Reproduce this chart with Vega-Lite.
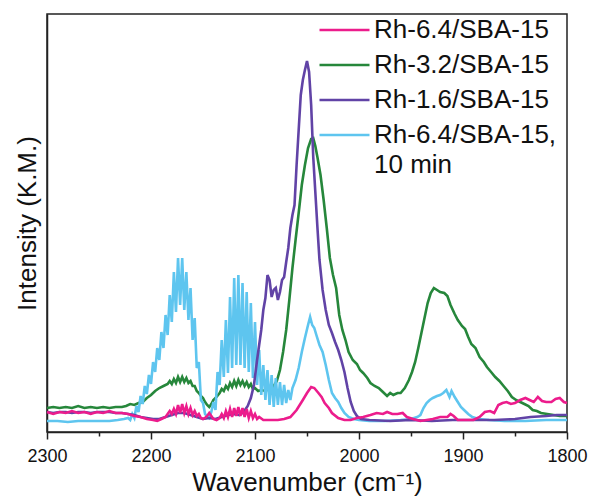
{
"$schema": "https://vega.github.io/schema/vega-lite/v6.json",
"width": 520, "height": 418,
"autosize": {"type": "none"},
"padding": {"left": 47, "top": 14, "right": 24, "bottom": 66},
"config": {"view": {"stroke": "#222", "strokeWidth": 1.5}, "font": "Liberation Sans"},
"data": {"values": [
{"s":"g","w":2300,"v":24},{"s":"g","w":2294,"v":25},{"s":"g","w":2288,"v":24},{"s":"g","w":2282,"v":25},{"s":"g","w":2276,"v":24},{"s":"g","w":2270,"v":26},{"s":"g","w":2264,"v":24},{"s":"g","w":2258,"v":25},{"s":"g","w":2252,"v":24},{"s":"g","w":2246,"v":25},{"s":"g","w":2240,"v":24},{"s":"g","w":2234,"v":25},{"s":"g","w":2228,"v":25},{"s":"g","w":2224,"v":26},{"s":"g","w":2220,"v":28},{"s":"g","w":2216,"v":27},{"s":"g","w":2212,"v":29},{"s":"g","w":2208,"v":30},{"s":"g","w":2204,"v":34},{"s":"g","w":2200,"v":37},{"s":"g","w":2196,"v":41},{"s":"g","w":2192,"v":44},{"s":"g","w":2188,"v":46},{"s":"g","w":2184,"v":48},{"s":"g","w":2182,"v":51},{"s":"g","w":2180,"v":48},{"s":"g","w":2178,"v":53},{"s":"g","w":2176,"v":49},{"s":"g","w":2174,"v":55},{"s":"g","w":2172,"v":50},{"s":"g","w":2170,"v":55},{"s":"g","w":2168,"v":50},{"s":"g","w":2166,"v":54},{"s":"g","w":2164,"v":49},{"s":"g","w":2162,"v":51},{"s":"g","w":2160,"v":46},{"s":"g","w":2158,"v":46},{"s":"g","w":2156,"v":41},{"s":"g","w":2154,"v":39},{"s":"g","w":2152,"v":36},{"s":"g","w":2150,"v":34},{"s":"g","w":2148,"v":30},{"s":"g","w":2146,"v":27},{"s":"g","w":2144,"v":25},{"s":"g","w":2142,"v":28},{"s":"g","w":2140,"v":32},{"s":"g","w":2137,"v":35},{"s":"g","w":2134,"v":39},{"s":"g","w":2132,"v":43},{"s":"g","w":2130,"v":41},{"s":"g","w":2128,"v":46},{"s":"g","w":2126,"v":43},{"s":"g","w":2124,"v":49},{"s":"g","w":2122,"v":45},{"s":"g","w":2120,"v":51},{"s":"g","w":2118,"v":46},{"s":"g","w":2116,"v":52},{"s":"g","w":2114,"v":47},{"s":"g","w":2112,"v":51},{"s":"g","w":2110,"v":46},{"s":"g","w":2108,"v":50},{"s":"g","w":2106,"v":45},{"s":"g","w":2104,"v":48},{"s":"g","w":2102,"v":43},{"s":"g","w":2100,"v":44},{"s":"g","w":2097,"v":41},{"s":"g","w":2094,"v":42},{"s":"g","w":2090,"v":41},{"s":"g","w":2086,"v":43},{"s":"g","w":2082,"v":46},{"s":"g","w":2079,"v":51},{"s":"g","w":2076,"v":62},{"s":"g","w":2073,"v":80},{"s":"g","w":2070,"v":102},{"s":"g","w":2067,"v":132},{"s":"g","w":2064,"v":164},{"s":"g","w":2061,"v":192},{"s":"g","w":2058,"v":219},{"s":"g","w":2055,"v":247},{"s":"g","w":2052,"v":267},{"s":"g","w":2049,"v":284},{"s":"g","w":2046,"v":293},{"s":"g","w":2044,"v":294},{"s":"g","w":2042,"v":286},{"s":"g","w":2040,"v":275},{"s":"g","w":2037,"v":257},{"s":"g","w":2034,"v":232},{"s":"g","w":2031,"v":204},{"s":"g","w":2028,"v":174},{"s":"g","w":2025,"v":157},{"s":"g","w":2022,"v":144},{"s":"g","w":2019,"v":117},{"s":"g","w":2016,"v":102},{"s":"g","w":2013,"v":92},{"s":"g","w":2010,"v":80},{"s":"g","w":2006,"v":72},{"s":"g","w":2002,"v":68},{"s":"g","w":1999,"v":62},{"s":"g","w":1996,"v":59},{"s":"g","w":1992,"v":54},{"s":"g","w":1989,"v":49},{"s":"g","w":1985,"v":46},{"s":"g","w":1981,"v":44},{"s":"g","w":1977,"v":40},{"s":"g","w":1973,"v":36},{"s":"g","w":1970,"v":39},{"s":"g","w":1967,"v":37},{"s":"g","w":1963,"v":39},{"s":"g","w":1960,"v":39},{"s":"g","w":1956,"v":44},{"s":"g","w":1952,"v":52},{"s":"g","w":1949,"v":60},{"s":"g","w":1946,"v":70},{"s":"g","w":1943,"v":84},{"s":"g","w":1940,"v":99},{"s":"g","w":1937,"v":114},{"s":"g","w":1934,"v":129},{"s":"g","w":1931,"v":139},{"s":"g","w":1928,"v":144},{"s":"g","w":1925,"v":142},{"s":"g","w":1922,"v":140},{"s":"g","w":1918,"v":139},{"s":"g","w":1915,"v":136},{"s":"g","w":1912,"v":127},{"s":"g","w":1908,"v":118},{"s":"g","w":1905,"v":112},{"s":"g","w":1901,"v":106},{"s":"g","w":1898,"v":103},{"s":"g","w":1895,"v":95},{"s":"g","w":1892,"v":88},{"s":"g","w":1888,"v":84},{"s":"g","w":1884,"v":75},{"s":"g","w":1880,"v":70},{"s":"g","w":1877,"v":65},{"s":"g","w":1873,"v":60},{"s":"g","w":1869,"v":55},{"s":"g","w":1865,"v":51},{"s":"g","w":1861,"v":46},{"s":"g","w":1857,"v":41},{"s":"g","w":1853,"v":35},{"s":"g","w":1849,"v":32},{"s":"g","w":1845,"v":30},{"s":"g","w":1841,"v":28},{"s":"g","w":1837,"v":26},{"s":"g","w":1833,"v":22},{"s":"g","w":1829,"v":21},{"s":"g","w":1825,"v":19},{"s":"g","w":1819,"v":18},{"s":"g","w":1813,"v":17},{"s":"g","w":1807,"v":16},{"s":"g","w":1800,"v":16},
{"s":"b","w":2300,"v":11},{"s":"b","w":2290,"v":11},{"s":"b","w":2280,"v":10},{"s":"b","w":2270,"v":11},{"s":"b","w":2260,"v":11},{"s":"b","w":2250,"v":11},{"s":"b","w":2240,"v":11},{"s":"b","w":2232,"v":12},{"s":"b","w":2226,"v":13},{"s":"b","w":2222,"v":14},{"s":"b","w":2220,"v":12},{"s":"b","w":2218,"v":18},{"s":"b","w":2216,"v":14},{"s":"b","w":2214,"v":26},{"s":"b","w":2212,"v":20},{"s":"b","w":2210,"v":36},{"s":"b","w":2208,"v":28},{"s":"b","w":2206,"v":46},{"s":"b","w":2204,"v":38},{"s":"b","w":2202,"v":57},{"s":"b","w":2200,"v":48},{"s":"b","w":2198,"v":70},{"s":"b","w":2196,"v":60},{"s":"b","w":2194,"v":84},{"s":"b","w":2192,"v":72},{"s":"b","w":2190,"v":100},{"s":"b","w":2188,"v":84},{"s":"b","w":2186,"v":117},{"s":"b","w":2184,"v":97},{"s":"b","w":2182,"v":137},{"s":"b","w":2180,"v":110},{"s":"b","w":2178,"v":160},{"s":"b","w":2176,"v":120},{"s":"b","w":2174,"v":174},{"s":"b","w":2172,"v":127},{"s":"b","w":2170,"v":174},{"s":"b","w":2168,"v":122},{"s":"b","w":2166,"v":160},{"s":"b","w":2164,"v":112},{"s":"b","w":2162,"v":144},{"s":"b","w":2160,"v":92},{"s":"b","w":2158,"v":114},{"s":"b","w":2156,"v":64},{"s":"b","w":2154,"v":70},{"s":"b","w":2152,"v":32},{"s":"b","w":2150,"v":29},{"s":"b","w":2148,"v":18},{"s":"b","w":2146,"v":16},{"s":"b","w":2144,"v":14},{"s":"b","w":2142,"v":20},{"s":"b","w":2140,"v":30},{"s":"b","w":2138,"v":22},{"s":"b","w":2136,"v":60},{"s":"b","w":2134,"v":47},{"s":"b","w":2132,"v":92},{"s":"b","w":2130,"v":55},{"s":"b","w":2128,"v":112},{"s":"b","w":2126,"v":59},{"s":"b","w":2124,"v":135},{"s":"b","w":2122,"v":64},{"s":"b","w":2120,"v":154},{"s":"b","w":2118,"v":67},{"s":"b","w":2116,"v":157},{"s":"b","w":2114,"v":67},{"s":"b","w":2112,"v":149},{"s":"b","w":2110,"v":64},{"s":"b","w":2108,"v":140},{"s":"b","w":2106,"v":60},{"s":"b","w":2104,"v":129},{"s":"b","w":2102,"v":54},{"s":"b","w":2100,"v":110},{"s":"b","w":2098,"v":47},{"s":"b","w":2096,"v":82},{"s":"b","w":2094,"v":37},{"s":"b","w":2092,"v":67},{"s":"b","w":2090,"v":32},{"s":"b","w":2088,"v":62},{"s":"b","w":2086,"v":27},{"s":"b","w":2084,"v":57},{"s":"b","w":2082,"v":25},{"s":"b","w":2080,"v":54},{"s":"b","w":2078,"v":27},{"s":"b","w":2076,"v":50},{"s":"b","w":2074,"v":27},{"s":"b","w":2072,"v":47},{"s":"b","w":2070,"v":29},{"s":"b","w":2068,"v":42},{"s":"b","w":2066,"v":32},{"s":"b","w":2064,"v":44},{"s":"b","w":2061,"v":52},{"s":"b","w":2058,"v":64},{"s":"b","w":2055,"v":80},{"s":"b","w":2052,"v":94},{"s":"b","w":2049,"v":107},{"s":"b","w":2047,"v":115},{"s":"b","w":2045,"v":107},{"s":"b","w":2043,"v":104},{"s":"b","w":2041,"v":97},{"s":"b","w":2038,"v":87},{"s":"b","w":2035,"v":80},{"s":"b","w":2032,"v":67},{"s":"b","w":2029,"v":52},{"s":"b","w":2026,"v":39},{"s":"b","w":2023,"v":34},{"s":"b","w":2020,"v":30},{"s":"b","w":2017,"v":24},{"s":"b","w":2014,"v":19},{"s":"b","w":2010,"v":15},{"s":"b","w":2005,"v":13},{"s":"b","w":2000,"v":12},{"s":"b","w":1990,"v":11},{"s":"b","w":1975,"v":11},{"s":"b","w":1960,"v":12},{"s":"b","w":1950,"v":13},{"s":"b","w":1944,"v":15},{"s":"b","w":1941,"v":17},{"s":"b","w":1938,"v":24},{"s":"b","w":1935,"v":29},{"s":"b","w":1932,"v":32},{"s":"b","w":1929,"v":34},{"s":"b","w":1925,"v":36},{"s":"b","w":1922,"v":37},{"s":"b","w":1919,"v":39},{"s":"b","w":1916,"v":42},{"s":"b","w":1913,"v":35},{"s":"b","w":1911,"v":41},{"s":"b","w":1908,"v":35},{"s":"b","w":1905,"v":30},{"s":"b","w":1902,"v":25},{"s":"b","w":1899,"v":22},{"s":"b","w":1895,"v":18},{"s":"b","w":1891,"v":15},{"s":"b","w":1885,"v":13},{"s":"b","w":1875,"v":12},{"s":"b","w":1860,"v":11},{"s":"b","w":1840,"v":11},{"s":"b","w":1820,"v":12},{"s":"b","w":1800,"v":12},
{"s":"u","w":2300,"v":20},{"s":"u","w":2294,"v":19},{"s":"u","w":2288,"v":20},{"s":"u","w":2282,"v":20},{"s":"u","w":2276,"v":19},{"s":"u","w":2270,"v":20},{"s":"u","w":2264,"v":20},{"s":"u","w":2258,"v":19},{"s":"u","w":2252,"v":20},{"s":"u","w":2246,"v":20},{"s":"u","w":2240,"v":20},{"s":"u","w":2234,"v":19},{"s":"u","w":2228,"v":19},{"s":"u","w":2222,"v":18},{"s":"u","w":2216,"v":17},{"s":"u","w":2210,"v":15},{"s":"u","w":2204,"v":14},{"s":"u","w":2198,"v":13},{"s":"u","w":2192,"v":13},{"s":"u","w":2186,"v":15},{"s":"u","w":2180,"v":17},{"s":"u","w":2174,"v":19},{"s":"u","w":2168,"v":19},{"s":"u","w":2162,"v":17},{"s":"u","w":2156,"v":15},{"s":"u","w":2150,"v":13},{"s":"u","w":2144,"v":14},{"s":"u","w":2138,"v":13},{"s":"u","w":2132,"v":15},{"s":"u","w":2126,"v":17},{"s":"u","w":2120,"v":18},{"s":"u","w":2115,"v":17},{"s":"u","w":2111,"v":20},{"s":"u","w":2107,"v":26},{"s":"u","w":2104,"v":34},{"s":"u","w":2101,"v":47},{"s":"u","w":2098,"v":72},{"s":"u","w":2096,"v":87},{"s":"u","w":2094,"v":102},{"s":"u","w":2092,"v":122},{"s":"u","w":2090,"v":134},{"s":"u","w":2088,"v":157},{"s":"u","w":2086,"v":152},{"s":"u","w":2084,"v":135},{"s":"u","w":2082,"v":142},{"s":"u","w":2080,"v":144},{"s":"u","w":2078,"v":132},{"s":"u","w":2076,"v":140},{"s":"u","w":2074,"v":152},{"s":"u","w":2072,"v":155},{"s":"u","w":2070,"v":170},{"s":"u","w":2068,"v":184},{"s":"u","w":2066,"v":204},{"s":"u","w":2064,"v":217},{"s":"u","w":2062,"v":227},{"s":"u","w":2060,"v":267},{"s":"u","w":2058,"v":302},{"s":"u","w":2056,"v":337},{"s":"u","w":2054,"v":352},{"s":"u","w":2052,"v":362},{"s":"u","w":2050,"v":371},{"s":"u","w":2048,"v":360},{"s":"u","w":2046,"v":327},{"s":"u","w":2044,"v":275},{"s":"u","w":2042,"v":240},{"s":"u","w":2040,"v":205},{"s":"u","w":2038,"v":172},{"s":"u","w":2035,"v":142},{"s":"u","w":2032,"v":122},{"s":"u","w":2029,"v":107},{"s":"u","w":2026,"v":99},{"s":"u","w":2023,"v":90},{"s":"u","w":2020,"v":82},{"s":"u","w":2017,"v":72},{"s":"u","w":2014,"v":60},{"s":"u","w":2011,"v":44},{"s":"u","w":2008,"v":30},{"s":"u","w":2005,"v":21},{"s":"u","w":2002,"v":16},{"s":"u","w":1998,"v":13},{"s":"u","w":1990,"v":12},{"s":"u","w":1970,"v":11},{"s":"u","w":1950,"v":12},{"s":"u","w":1930,"v":11},{"s":"u","w":1910,"v":12},{"s":"u","w":1890,"v":12},{"s":"u","w":1870,"v":12},{"s":"u","w":1850,"v":13},{"s":"u","w":1835,"v":15},{"s":"u","w":1820,"v":16},{"s":"u","w":1810,"v":17},{"s":"u","w":1800,"v":17},
{"s":"p","w":2300,"v":20},{"s":"p","w":2294,"v":18},{"s":"p","w":2288,"v":20},{"s":"p","w":2282,"v":19},{"s":"p","w":2276,"v":21},{"s":"p","w":2270,"v":19},{"s":"p","w":2264,"v":20},{"s":"p","w":2258,"v":18},{"s":"p","w":2252,"v":20},{"s":"p","w":2246,"v":19},{"s":"p","w":2240,"v":21},{"s":"p","w":2234,"v":19},{"s":"p","w":2228,"v":19},{"s":"p","w":2222,"v":18},{"s":"p","w":2216,"v":16},{"s":"p","w":2210,"v":15},{"s":"p","w":2204,"v":13},{"s":"p","w":2198,"v":12},{"s":"p","w":2194,"v":11},{"s":"p","w":2190,"v":13},{"s":"p","w":2186,"v":15},{"s":"p","w":2184,"v":18},{"s":"p","w":2182,"v":21},{"s":"p","w":2180,"v":18},{"s":"p","w":2178,"v":23},{"s":"p","w":2176,"v":18},{"s":"p","w":2174,"v":27},{"s":"p","w":2172,"v":19},{"s":"p","w":2170,"v":28},{"s":"p","w":2168,"v":19},{"s":"p","w":2166,"v":26},{"s":"p","w":2164,"v":18},{"s":"p","w":2162,"v":24},{"s":"p","w":2160,"v":17},{"s":"p","w":2158,"v":21},{"s":"p","w":2156,"v":16},{"s":"p","w":2154,"v":18},{"s":"p","w":2152,"v":14},{"s":"p","w":2150,"v":13},{"s":"p","w":2148,"v":14},{"s":"p","w":2146,"v":16},{"s":"p","w":2144,"v":19},{"s":"p","w":2142,"v":16},{"s":"p","w":2140,"v":13},{"s":"p","w":2137,"v":12},{"s":"p","w":2134,"v":14},{"s":"p","w":2132,"v":18},{"s":"p","w":2130,"v":14},{"s":"p","w":2128,"v":21},{"s":"p","w":2126,"v":15},{"s":"p","w":2124,"v":23},{"s":"p","w":2122,"v":15},{"s":"p","w":2120,"v":24},{"s":"p","w":2118,"v":16},{"s":"p","w":2116,"v":25},{"s":"p","w":2114,"v":16},{"s":"p","w":2112,"v":24},{"s":"p","w":2110,"v":15},{"s":"p","w":2108,"v":23},{"s":"p","w":2106,"v":14},{"s":"p","w":2104,"v":21},{"s":"p","w":2102,"v":14},{"s":"p","w":2100,"v":18},{"s":"p","w":2098,"v":13},{"s":"p","w":2096,"v":15},{"s":"p","w":2092,"v":12},{"s":"p","w":2085,"v":12},{"s":"p","w":2078,"v":12},{"s":"p","w":2072,"v":13},{"s":"p","w":2066,"v":15},{"s":"p","w":2060,"v":22},{"s":"p","w":2054,"v":32},{"s":"p","w":2050,"v":39},{"s":"p","w":2046,"v":45},{"s":"p","w":2043,"v":44},{"s":"p","w":2039,"v":39},{"s":"p","w":2036,"v":35},{"s":"p","w":2033,"v":29},{"s":"p","w":2029,"v":24},{"s":"p","w":2026,"v":19},{"s":"p","w":2020,"v":14},{"s":"p","w":2014,"v":12},{"s":"p","w":2008,"v":12},{"s":"p","w":2002,"v":14},{"s":"p","w":1996,"v":15},{"s":"p","w":1989,"v":17},{"s":"p","w":1983,"v":19},{"s":"p","w":1977,"v":18},{"s":"p","w":1973,"v":20},{"s":"p","w":1968,"v":18},{"s":"p","w":1963,"v":18},{"s":"p","w":1958,"v":19},{"s":"p","w":1954,"v":15},{"s":"p","w":1948,"v":13},{"s":"p","w":1941,"v":11},{"s":"p","w":1935,"v":12},{"s":"p","w":1929,"v":13},{"s":"p","w":1922,"v":15},{"s":"p","w":1915,"v":15},{"s":"p","w":1912,"v":18},{"s":"p","w":1909,"v":16},{"s":"p","w":1905,"v":12},{"s":"p","w":1898,"v":12},{"s":"p","w":1890,"v":12},{"s":"p","w":1884,"v":15},{"s":"p","w":1879,"v":20},{"s":"p","w":1874,"v":21},{"s":"p","w":1870,"v":19},{"s":"p","w":1866,"v":27},{"s":"p","w":1862,"v":29},{"s":"p","w":1858,"v":30},{"s":"p","w":1854,"v":28},{"s":"p","w":1850,"v":29},{"s":"p","w":1845,"v":32},{"s":"p","w":1840,"v":34},{"s":"p","w":1836,"v":32},{"s":"p","w":1832,"v":30},{"s":"p","w":1828,"v":35},{"s":"p","w":1824,"v":31},{"s":"p","w":1820,"v":30},{"s":"p","w":1815,"v":30},{"s":"p","w":1811,"v":33},{"s":"p","w":1807,"v":34},{"s":"p","w":1803,"v":30},{"s":"p","w":1800,"v":29}
]},
"mark": {"type": "line", "strokeWidth": 2.6},
"encoding": {
  "x": {"field": "w", "type": "quantitative",
    "scale": {"domain": [1800, 2300], "reverse": true, "nice": false, "zero": false},
    "axis": {"title": "Wavenumber (cm⁻¹)", "values": [2300,2250,2200,2150,2100,2050,2000,1950,1900,1850,1800],
      "format": "d", "labelExpr": "datum.value % 100 === 0 ? datum.label : ''",
      "tickSize": {"condition": {"test": "datum.value % 100 === 0", "value": 7}, "value": 4},
      "grid": false, "domainColor": "#222", "domainWidth": 1.5, "tickColor": "#222", "tickWidth": 1.5,
      "labelFontSize": 18, "labelColor": "#111", "labelPadding": 8, "labelFlush": false, "labelOverlap": false,
      "titleFontSize": 26, "titleFontWeight": "normal", "titleColor": "#111", "titlePadding": 4}},
  "y": {"field": "v", "type": "quantitative",
    "scale": {"domain": [0, 418], "nice": false},
    "axis": {"title": "Intensity (K.M.)", "labels": false, "ticks": false, "grid": false,
      "domainColor": "#222", "domainWidth": 1.5,
      "titleFontSize": 26, "titleFontWeight": "normal", "titleColor": "#111", "titlePadding": 7}},
  "color": {"field": "s", "type": "nominal",
    "scale": {"domain": ["p","g","u","b"], "range": ["#EC1C8C","#26873B","#6143A6","#5EC5EF"]},
    "legend": {"orient": "none", "legendX": 271, "legendY": 2, "title": null, "padding": 0,
      "symbolType": "stroke", "symbolSize": 2500, "symbolStrokeWidth": 2.6, "clipHeight": 28, "rowPadding": 7,
      "labelFontSize": 26, "labelOffset": 3, "labelLimit": 400, "labelColor": "#111",
      "labelExpr": "datum.value == 'p' ? 'Rh-6.4/SBA-15' : datum.value == 'g' ? 'Rh-3.2/SBA-15' : datum.value == 'u' ? 'Rh-1.6/SBA-15' : ['Rh-6.4/SBA-15,', '10 min']",
      "encode": {"labels": {"update": {"lineHeight": {"value": 30}}}}}}
}
}
